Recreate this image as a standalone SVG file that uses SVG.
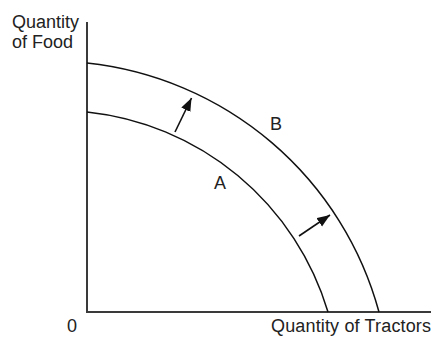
<svg xmlns="http://www.w3.org/2000/svg" width="432" height="337" viewBox="0 0 432 337">
<style>
text{font-family:"Liberation Sans",Arial,sans-serif;font-size:18px;fill:#222}
.axis{stroke:#3a3a3a;stroke-width:2;fill:none}
.curve{stroke:#111;stroke-width:1.5;fill:none}
.arrow{stroke:#111;stroke-width:1.6;fill:none;marker-end:url(#ah)}
</style>
<defs>
<marker id="ah" markerUnits="userSpaceOnUse" markerWidth="14" markerHeight="12" refX="13" refY="5" orient="auto">
<path d="M0,0 L13,5 L0,10 Z" fill="#111"/>
</marker>
</defs>
<rect width="432" height="337" fill="#fff"/>
<g id="axes">
<path class="axis" d="M87,22 V312 H431"/>
</g>
<g id="curve-A">
<path class="curve" d="M87,112 A282.5,282.5 0 0 1 328,312"/>
<text x="214" y="189">A</text>
</g>
<g id="curve-B">
<path class="curve" d="M87,63 A340,340 0 0 1 379,312"/>
<text x="270" y="130">B</text>
</g>
<g id="connectors">
<path class="arrow" d="M175,132 L191.5,98"/>
<path class="arrow" d="M299,236 L330,215"/>
</g>
<g id="labels">
<text x="12" y="28">Quantity</text>
<text x="12" y="48">of Food</text>
<text x="67" y="332">0</text>
<text x="271" y="332" textLength="160">Quantity of Tractors</text>
</g>
</svg>
